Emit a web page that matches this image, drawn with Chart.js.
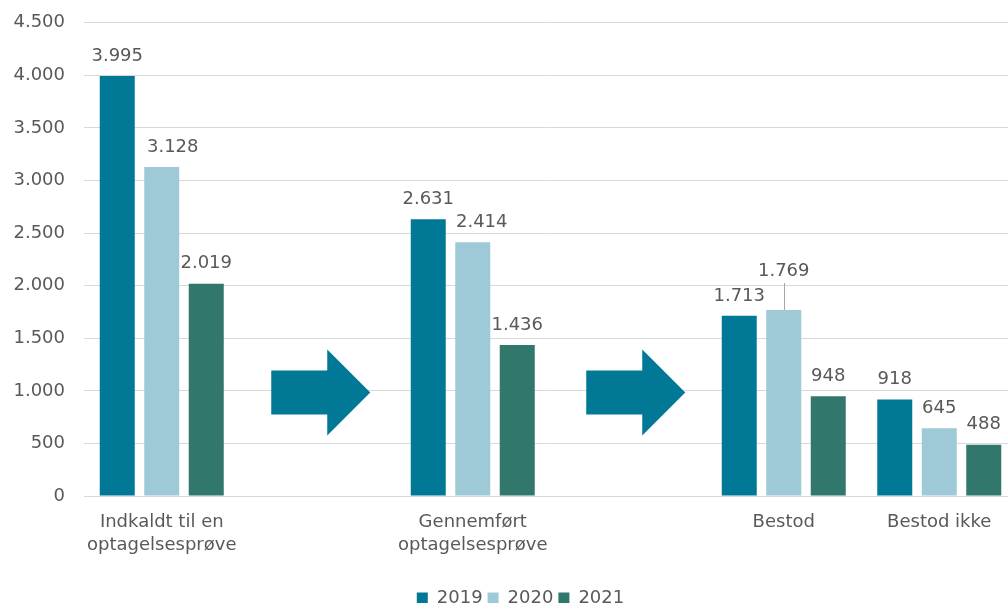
<!DOCTYPE html>
<html>
<head>
<meta charset="utf-8">
<script src="https://cdn.jsdelivr.net/npm/chart.js@4/dist/chart.umd.min.js"></script>
<style>
  html, body { margin: 0; padding: 0; background: #fff; overflow: hidden; }
  #wrap { width: 1030px; height: 624px; margin-top: -7px; }
</style>
</head>
<body>
<div id="wrap"><canvas id="graf"></canvas></div>
<script>
// Data
const kategorier = [
  ["Indkaldt til en", "optagelsesprøve"],
  "",
  ["Gennemført", "optagelsesprøve"],
  "",
  "Bestod",
  "Bestod ikke"
];
const aar = ["2019", "2020", "2021"];
const vaerdier2019 = [3995, null, 2631, null, 1713, 918];
const vaerdier2020 = [3128, null, 2414, null, 1769, 645];
const vaerdier2021 = [2019, null, 1436, null, 948, 488];
const pilKategorier = [1, 3]; // tomme kategorier hvor pilene står

const farver = ["#007896", "#9dcad6", "#31776b"];
const tekstFarve = "#595959";
const gitterFarve = "#d9d9d9";

// dansk tusindtalsseparator
function fmt(v) {
  return String(v).replace(/\B(?=(\d{3})+(?!\d))/g, ".");
}

// etiketter der er flyttet i originalen (serie-kategori)
const etiketSkub = { "1-0": 11, "1-2": 9 };
const loeftetEtiket = "1-4";

// Etiketter over søjlerne (1.769 løftet med streg)
const etiketPlugin = {
  id: "etiketter",
  afterDatasetsDraw(chart) {
    const ctx = chart.ctx;
    ctx.save();
    ctx.font = "18px 'DejaVu Sans'";
    ctx.fillStyle = tekstFarve;
    ctx.textAlign = "center";
    ctx.textBaseline = "middle";
    chart.data.datasets.forEach((ds, di) => {
      chart.getDatasetMeta(di).data.forEach((bar, i) => {
        const v = ds.data[i];
        if (v == null) return;
        const noegle = di + "-" + i;
        const loeftet = noegle === loeftetEtiket;
        const x = bar.x + (etiketSkub[noegle] || 0);
        const y = bar.y - (loeftet ? 39 : 20);
        ctx.fillText(fmt(v), x, y);
        if (loeftet) {
          ctx.strokeStyle = "#a6a6a6";
          ctx.lineWidth = 1;
          ctx.beginPath();
          ctx.moveTo(Math.round(bar.x) + 0.5, y + 12);
          ctx.lineTo(Math.round(bar.x) + 0.5, bar.y);
          ctx.stroke();
        }
      });
    });
    ctx.restore();
  }
};

// Pile mellem grupperne
const pilPlugin = {
  id: "pile",
  afterDatasetsDraw(chart) {
    const ctx = chart.ctx;
    const xs = chart.scales.x, ys = chart.scales.y;
    const forskyd = [3, 7];
    ctx.save();
    ctx.fillStyle = farver[0];
    pilKategorier.forEach((k, n) => {
      const cx = xs.getPixelForValue(k) + forskyd[n];
      const cy = ys.getPixelForValue(985);
      const l = cx - 49, hals = cx + 7, spids = cx + 50;
      ctx.beginPath();
      ctx.moveTo(l, cy - 22);
      ctx.lineTo(hals, cy - 22);
      ctx.lineTo(hals, cy - 43);
      ctx.lineTo(spids, cy);
      ctx.lineTo(hals, cy + 43);
      ctx.lineTo(hals, cy + 22);
      ctx.lineTo(l, cy + 22);
      ctx.closePath();
      ctx.fill();
    });
    ctx.restore();
  }
};

// flyt forklaringen lidt til højre, som i originalen
const forklaringPlugin = {
  id: "forklaringFlyt",
  afterLayout(chart) {
    chart.legend.left += 12;
    chart.legend.right += 12;
  }
};

const serier = [vaerdier2019, vaerdier2020, vaerdier2021];

new Chart(document.getElementById("graf"), {
  type: "bar",
  data: {
    labels: kategorier,
    datasets: serier.map((d, i) => ({
      label: aar[i],
      data: d,
      backgroundColor: farver[i],
      categoryPercentage: 0.8585,
      barPercentage: 0.7865
    }))
  },
  options: {
    responsive: true,
    maintainAspectRatio: false,
    animation: false,
    layout: { padding: { left: 0, right: 13, top: 15, bottom: 0 } },
    plugins: {
      tooltip: { enabled: false },
      legend: {
        position: "bottom",
        labels: {
          color: tekstFarve,
          font: { family: "'DejaVu Sans'", size: 18 },
          usePointStyle: true,
          pointStyle: "rect",
          boxHeight: 11,
          boxWidth: 11,
          padding: 5
        }
      }
    },
    scales: {
      x: {
        grid: { display: false },
        border: { color: gitterFarve },
        ticks: {
          color: tekstFarve,
          font: { family: "'DejaVu Sans'", size: 18, lineHeight: 1.27 },
          padding: 7,
          maxRotation: 0,
          autoSkip: false
        },
        afterFit(s) { s.height = 88; }
      },
      y: {
        min: 0,
        max: 4500,
        border: { display: false },
        grid: { color: gitterFarve, drawTicks: false },
        ticks: {
          stepSize: 500,
          color: tekstFarve,
          font: { family: "'DejaVu Sans'", size: 18 },
          padding: 19,
          callback: v => fmt(v)
        },
        afterFit(s) { s.width = 84; }
      }
    }
  },
  plugins: [pilPlugin, etiketPlugin, forklaringPlugin]
});
</script>
</body>
</html>
